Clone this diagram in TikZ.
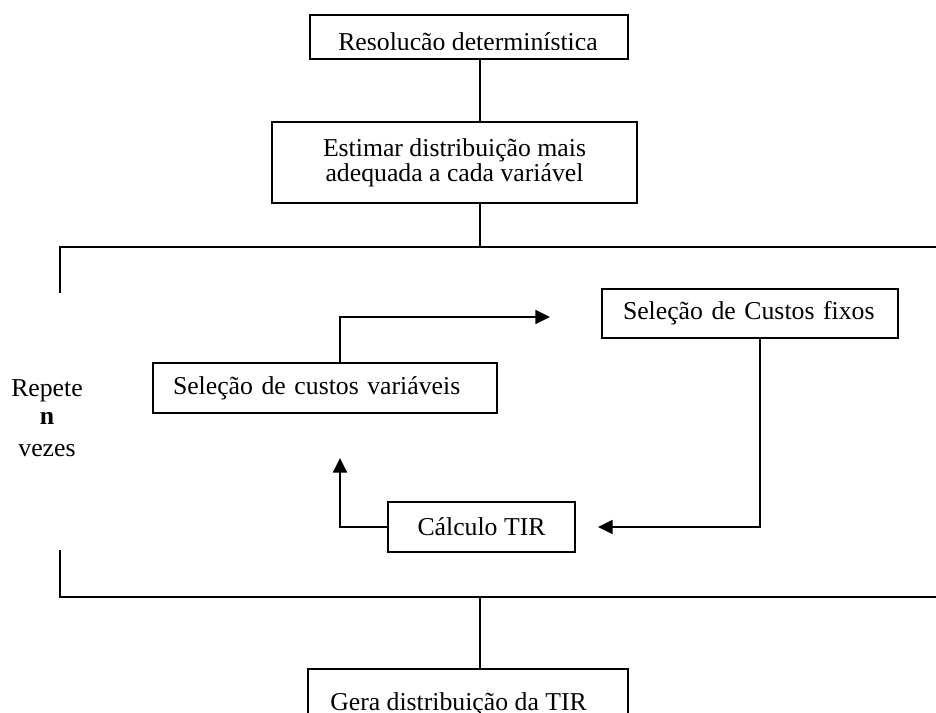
\documentclass[tikz,border=0pt]{standalone}
\usepackage{fontspec}
\setmainfont{Liberation Serif}
\usetikzlibrary{arrows.meta}

\begin{document}
\begin{tikzpicture}[x=0.75pt,y=-0.75pt,
  every node/.style={font=\fontsize{19.3pt}{18.8pt}\selectfont},
  box/.style={draw,line width=1.4pt,inner sep=0pt},
  link/.style={line width=1.2pt},
  flow/.style={link,-{Triangle[length=11pt,width=10.5pt]}}]
\useasboundingbox (0,0) rectangle (936,713);

% boxes
\node[box,minimum width=238.5pt,minimum height=33pt] (top) at (469,37) {};
\begin{scope}
  \clip (300,10) rectangle (640,50);
  \node[anchor=base,inner sep=0pt] (toplabel) at (468,51) {Resolução determinística};
\end{scope}

\node[box,minimum width=273.75pt,minimum height=60.75pt,align=center] (est) at (454.5,162.5)
  {Estimar distribuição mais\\adequada a cada variável};

\node[box,minimum width=258pt,minimum height=37.5pt,text width=228pt,inner xsep=15pt,align=left]
  (var) at (325,388) {Seleção de custos variáveis};

\node[box,minimum width=222pt,minimum height=36.75pt,text width=190.5pt,inner xsep=15.75pt,align=left]
  (fix) at (750,313.5) {Seleção de Custos fixos};

\node[box,minimum width=140.25pt,minimum height=37.5pt] (tir) at (481.5,527) {Cálculo TIR};

\node[box,minimum width=240pt,minimum height=68.25pt] (gera) at (468,714.5) {};
\node[anchor=base west,inner sep=0pt] (geralabel) at (330,710) {Gera distribuição da TIR};

% repetition label
\node[anchor=base,inner sep=0pt] (rep1) at (47,396) {Repete};
\node[anchor=base,inner sep=0pt] (rep2) at (47,424) {\bfseries n};
\node[anchor=base,inner sep=0pt] (rep3) at (47,456) {vezes};

% reference points for the connectors
\coordinate (spine) at (480,0);
\coordinate (brTopL) at (60,293);
\coordinate (brTopR) at (936,247);
\coordinate (brBotL) at (60,550);
\coordinate (brBotR) at (936,597);
\coordinate (upx) at (340,0);
\coordinate (downx) at (760,0);
\coordinate (tipA) at (550,317);
\coordinate (tipB) at (598,527);
\coordinate (tipC) at (340,458);

% main vertical flow
\draw[link] (top.south -| spine) -- (est.north -| spine);
\draw[link] (est.south -| spine) -- (brTopR -| spine);
\draw[link] (brBotR -| spine) -- (gera.north -| spine);

% loop brackets
\draw[link] (brTopL) |- (brTopR);
\draw[link] (brBotL) |- (brBotR);

% loop cycle
\draw[flow] (var.north -| upx) |- (tipA);
\draw[flow] (fix.south -| downx) |- (tipB);
\draw[flow] (tir.west) -| (tipC);
\end{tikzpicture}
\end{document}
